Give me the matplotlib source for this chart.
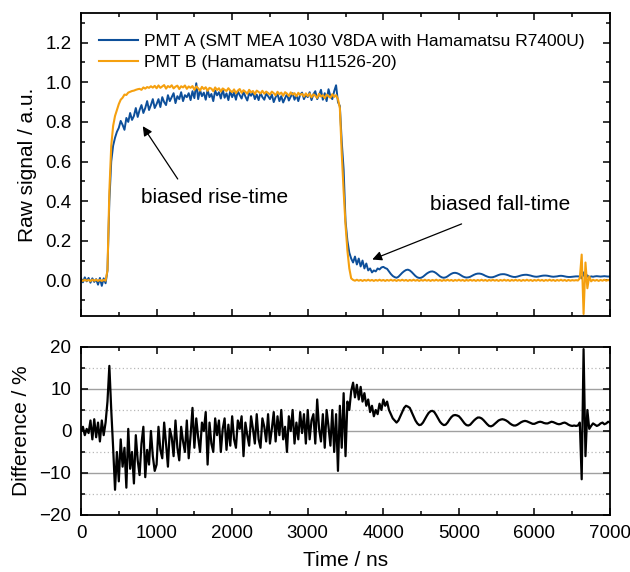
import numpy as np
import matplotlib
matplotlib.use("Agg")
import matplotlib.pyplot as plt
from matplotlib.ticker import MultipleLocator

plt.rcParams['font.family'] = ['Liberation Sans', 'DejaVu Sans']

# time grid (ns), one sample every 25 ns
time_ns = np.arange(0, 7001, 25)

# PMT A raw signal, rows of 500 ns
pmt_a = [
    0.010, -0.010, 0.015, -0.005, 0.012, -0.012, 0.010, -0.008, 0.006, -0.022, 0.012, -0.028, 0.010, -0.015, 0.050, 0.400, 0.600, 0.680, 0.720, 0.750,
    0.770, 0.805, 0.785, 0.760, 0.820, 0.800, 0.845, 0.810, 0.830, 0.870, 0.825, 0.860, 0.885, 0.845, 0.870, 0.905, 0.860, 0.885, 0.915, 0.870,
    0.890, 0.915, 0.875, 0.925, 0.900, 0.885, 0.935, 0.905, 0.925, 0.945, 0.895, 0.930, 0.915, 0.950, 0.905, 0.935, 0.925, 0.945, 0.910, 0.955,
    0.920, 0.995, 0.915, 0.960, 0.930, 0.948, 0.912, 0.962, 0.925, 0.941, 0.905, 0.958, 0.934, 0.950, 0.918, 0.965, 0.922, 0.944, 0.910, 0.956,
    0.925, 0.948, 0.912, 0.955, 0.935, 0.918, 0.952, 0.928, 0.908, 0.945, 0.932, 0.950, 0.915, 0.938, 0.910, 0.946, 0.925, 0.912, 0.942, 0.930,
    0.915, 0.938, 0.900, 0.925, 0.942, 0.905, 0.930, 0.898, 0.920, 0.940, 0.908, 0.928, 0.945, 0.912, 0.935, 0.905, 0.938, 0.948, 0.915, 0.935,
    0.925, 0.950, 0.910, 0.940, 0.955, 0.915, 0.935, 0.962, 0.912, 0.945, 0.905, 0.965, 0.930, 0.915, 0.955, 0.985, 0.900, 0.880, 0.700, 0.560,
    0.300, 0.200, 0.140, 0.110, 0.090, 0.120, 0.080, 0.110, 0.070, 0.100, 0.060, 0.085, 0.050, 0.060, 0.040, 0.050, 0.045, 0.060, 0.055, 0.065,
    0.068, 0.062, 0.058, 0.045, 0.032, 0.022, 0.016, 0.013, 0.018, 0.028, 0.038, 0.046, 0.052, 0.054, 0.050, 0.042, 0.032, 0.022, 0.015, 0.012,
    0.013, 0.018, 0.026, 0.034, 0.040, 0.044, 0.045, 0.042, 0.036, 0.028, 0.020, 0.015, 0.013, 0.015, 0.020, 0.027, 0.033, 0.037, 0.038, 0.036,
    0.032, 0.026, 0.020, 0.016, 0.014, 0.015, 0.018, 0.023, 0.028, 0.032, 0.034, 0.034, 0.032, 0.028, 0.023, 0.019, 0.016, 0.015, 0.016, 0.019,
    0.023, 0.027, 0.030, 0.031, 0.031, 0.029, 0.026, 0.022, 0.019, 0.017, 0.017, 0.019, 0.022, 0.025, 0.027, 0.028, 0.028, 0.026, 0.024, 0.021,
    0.019, 0.018, 0.019, 0.021, 0.023, 0.024, 0.024, 0.023, 0.021, 0.019, 0.018, 0.019, 0.020, 0.022, 0.023, 0.022, 0.020, 0.018, 0.017, 0.017,
    0.018, 0.019, 0.020, 0.020, 0.019, 0.010, 0.040, 0.005, 0.025, 0.015, 0.020, 0.018, 0.020, 0.021, 0.020, 0.019, 0.020, 0.021, 0.020, 0.019,
    0.020,
]

# PMT B raw signal
pmt_b = [
    0.002, -0.003, 0.003, -0.002, 0.002, -0.004, 0.003, -0.002, 0.003, -0.003, 0.002, -0.003, 0.002, -0.002, 0.050, 0.450, 0.680, 0.780, 0.830, 0.860,
    0.890, 0.912, 0.922, 0.938, 0.936, 0.948, 0.952, 0.956, 0.958, 0.962, 0.965, 0.967, 0.962, 0.974, 0.968, 0.976, 0.972, 0.980, 0.973, 0.982,
    0.970, 0.984, 0.972, 0.979, 0.986, 0.968, 0.981, 0.975, 0.985, 0.969, 0.978, 0.983, 0.966, 0.980, 0.974, 0.984, 0.967, 0.979, 0.972, 0.981,
    0.962, 0.979, 0.970, 0.958, 0.977, 0.966, 0.975, 0.957, 0.972, 0.968, 0.955, 0.974, 0.961, 0.970, 0.953, 0.969, 0.962, 0.956, 0.970, 0.958,
    0.950, 0.964, 0.945, 0.958, 0.966, 0.947, 0.960, 0.952, 0.942, 0.962, 0.949, 0.956, 0.940, 0.958, 0.951, 0.944, 0.957, 0.942, 0.953, 0.946,
    0.938, 0.953, 0.945, 0.934, 0.952, 0.940, 0.948, 0.932, 0.950, 0.943, 0.931, 0.949, 0.938, 0.945, 0.929, 0.947, 0.936, 0.942, 0.928, 0.944,
    0.930, 0.943, 0.924, 0.939, 0.932, 0.921, 0.942, 0.928, 0.935, 0.920, 0.938, 0.930, 0.922, 0.940, 0.926, 0.935, 0.915, 0.870, 0.640, 0.450,
    0.280, 0.150, 0.060, 0.010, 0.002, -0.002, 0.003, -0.002, 0.002, -0.003, 0.002, -0.002, 0.003, -0.002, 0.002, -0.003, 0.002, -0.002, 0.003, -0.002,
    0.002, -0.003, 0.002, -0.002, 0.003, -0.002, 0.002, -0.003, 0.002, -0.002, 0.003, -0.002, 0.002, -0.003, 0.002, -0.002, 0.003, -0.002, 0.002, -0.003,
    0.002, -0.002, 0.003, -0.002, 0.002, -0.003, 0.002, -0.002, 0.003, -0.002, 0.002, -0.003, 0.002, -0.002, 0.003, -0.002, 0.002, -0.003, 0.002, -0.002,
    0.003, -0.002, 0.002, -0.003, 0.002, -0.002, 0.003, -0.002, 0.002, -0.003, 0.002, -0.002, 0.003, -0.002, 0.002, -0.003, 0.002, -0.002, 0.003, -0.002,
    0.002, -0.003, 0.002, -0.002, 0.003, -0.002, 0.002, -0.003, 0.002, -0.002, 0.003, -0.002, 0.002, -0.003, 0.002, -0.002, 0.003, -0.002, 0.002, -0.003,
    0.002, -0.002, 0.003, -0.002, 0.002, -0.003, 0.002, -0.002, 0.003, -0.002, 0.002, -0.003, 0.002, -0.002, 0.003, -0.002, 0.002, -0.003, 0.002, -0.002,
    0.001, -0.001, 0.001, -0.001, 0.010, 0.130, -0.170, 0.090, -0.040, 0.020, -0.005, 0.003, -0.002, 0.002, -0.003, 0.002, -0.002, 0.003, -0.002, 0.002,
    -0.002,
]

# difference between the two PMTs (%)
difference = [
    0.0, 1.0, -1.0, 0.5, -0.5, 2.5, -2.0, 2.8, -1.5, 2.0, -2.5, 2.5, -1.0, 2.0, 7.0, 15.5, 5.0, -4.0, -14.0, -5.0,
    -12.0, -2.0, -8.5, -4.0, -13.5, 0.5, -9.0, -5.0, -12.5, -1.0, -7.0, -10.5, -3.0, 1.0, -11.0, -4.5, -8.0, 0.0, -6.0, -9.5,
    -8.0, 1.0, -4.5, -6.5, 2.0, -3.0, -8.5, 0.5, -1.5, -6.0, 2.5, -4.0, -7.0, 1.0, -2.5, -5.0, 2.5, -6.5, -1.0, 5.5,
    -4.0, 3.0, -1.5, -5.0, 2.0, 0.0, 4.5, -8.0, 2.0, -3.0, -5.0, 3.0, -1.0, 2.5, -5.0, 0.5, 3.0, -4.5, 1.5, -3.5,
    3.5, -2.0, -4.0, 2.5, 0.5, 3.5, -6.0, 2.0, -1.0, -3.5, 3.5, 0.5, -3.0, 4.0, -2.0, -4.0, 3.0, 1.0, -2.5, 4.0,
    -3.0, 0.5, 4.5, -2.5, 3.5, -1.0, 5.0, -2.0, 1.0, -5.0, 3.5, 0.0, 5.0, -3.0, 2.0, -2.0, 4.5, -0.5, 4.0, -3.0,
    5.0, -2.0, 2.5, 4.0, -3.0, 7.5, 0.5, -2.5, 4.0, -4.0, 5.0, 1.0, -3.5, 5.0, -5.0, 4.0, -9.5, 6.0, -4.0, 9.0,
    -6.0, 7.0, 5.0, 9.5, 11.5, 8.0, 11.0, 7.5, 10.5, 7.0, 9.0, 6.0, 7.5, 4.5, 6.0, 3.5, 5.0, 4.0, 6.5, 5.0,
    7.5, 6.0, 7.0, 5.0, 4.0, 3.0, 2.5, 2.0, 2.5, 3.5, 4.5, 5.5, 6.0, 5.8, 5.5, 4.5, 3.5, 2.5, 1.8, 1.4,
    1.5, 2.0, 2.8, 3.6, 4.3, 4.7, 4.8, 4.5, 3.8, 3.0, 2.2, 1.7, 1.4, 1.5, 2.0, 2.7, 3.3, 3.7, 3.8, 3.7,
    3.5, 3.0, 2.4, 1.8, 1.4, 1.3, 1.5, 2.0, 2.5, 2.9, 3.2, 3.2, 3.0, 2.6, 2.1, 1.6, 1.2, 1.1, 1.3, 1.7,
    2.1, 2.5, 2.7, 2.8, 2.7, 2.5, 2.2, 1.8, 1.5, 1.3, 1.3, 1.5, 1.8, 2.1, 2.3, 2.4, 2.3, 2.1, 1.9, 1.7,
    1.7, 1.9, 2.1, 2.2, 2.1, 1.9, 1.8, 1.8, 2.0, 2.2, 2.1, 1.9, 1.7, 1.6, 1.7, 1.9, 2.0, 1.8, 1.5, 1.3,
    1.2, 1.3, 1.2, 1.3, 2.0, -11.5, 19.5, -6.0, 5.0, 0.5, 1.2, 1.8, 1.5, 1.2, 1.4, 1.8, 2.0, 1.6, 1.8, 2.2,
    2.0,
]

label_a = 'PMT A (SMT MEA 1030 V8DA with Hamamatsu R7400U)'
label_b = 'PMT B (Hamamatsu H11526-20)'

blue = '#0d4f9a'
orange = '#f5a00f'

fig = plt.figure(figsize=(6.3, 5.72), dpi=100)
ax1 = fig.add_axes([0.1286, 0.4476, 0.8397, 0.5297])
ax2 = fig.add_axes([0.1286, 0.0997, 0.8397, 0.2937])

ax1.plot(time_ns, pmt_a, color=blue, lw=1.4, label=label_a)
ax1.plot(time_ns, pmt_b, color=orange, lw=1.5, label=label_b)
ax1.set_xlim(0, 7000)
ax1.set_ylim(-0.18, 1.35)
ax1.set_ylabel('Raw signal / a.u.', fontsize=15, labelpad=6)
ax1.yaxis.set_minor_locator(MultipleLocator(0.1))
ax1.set_yticks([0.0, 0.2, 0.4, 0.6, 0.8, 1.0, 1.2])
ax1.set_yticklabels(['0.0', '0.2', '0.4', '0.6', '0.8', '1.0', '1.2'])
ax1.tick_params(labelbottom=False)
leg = ax1.legend(loc='upper left', bbox_to_anchor=(0.02, 0.955), frameon=False,
                 fontsize=12.5, handlelength=2.3, handletextpad=0.3,
                 labelspacing=0.35, borderaxespad=0.0)
for line in leg.get_lines():
    line.set_linewidth(1.5)

ax1.annotate('', xy=(797, 0.79), xytext=(1300, 0.50),
             arrowprops=dict(arrowstyle='-|>', color='black', lw=0.9,
                             mutation_scale=14))
ax1.text(1770, 0.42, 'biased rise-time', fontsize=15, ha='center', va='center')
ax1.annotate('', xy=(3820, 0.10), xytext=(5070, 0.29),
             arrowprops=dict(arrowstyle='-|>', color='black', lw=0.9,
                             mutation_scale=14))
ax1.text(5540, 0.385, 'biased fall-time', fontsize=15, ha='center', va='center')

# bottom panel grid
for yv in [-10, 0, 10]:
    ax2.axhline(yv, color='#a0a0a0', lw=1.0, zorder=0)
for yv in [-15, -5, 5, 15]:
    ax2.axhline(yv, color='#b8b8b8', lw=0.9, ls=(0, (1, 2)), zorder=0)
ax2.plot(time_ns, difference, color='black', lw=1.6)
ax2.set_xlim(0, 7000)
ax2.set_ylim(-20, 20)
ax2.yaxis.set_major_locator(MultipleLocator(10))
ax2.yaxis.set_minor_locator(MultipleLocator(5))
ax2.set_ylabel('Difference / %', fontsize=15, labelpad=6)
ax2.set_xlabel('Time / ns', fontsize=15, labelpad=7)

for ax in (ax1, ax2):
    ax.xaxis.set_major_locator(MultipleLocator(1000))
    ax.xaxis.set_minor_locator(MultipleLocator(500))
    ax.tick_params(which='both', direction='in', top=True, right=True,
                   labelsize=13.5, width=1.1, pad=7)
    ax.tick_params(which='major', length=5)
    ax.tick_params(which='minor', length=3)
    for sp in ax.spines.values():
        sp.set_linewidth(1.3)

fig.align_ylabels([ax1, ax2])
fig.savefig('out.png', dpi=100)
